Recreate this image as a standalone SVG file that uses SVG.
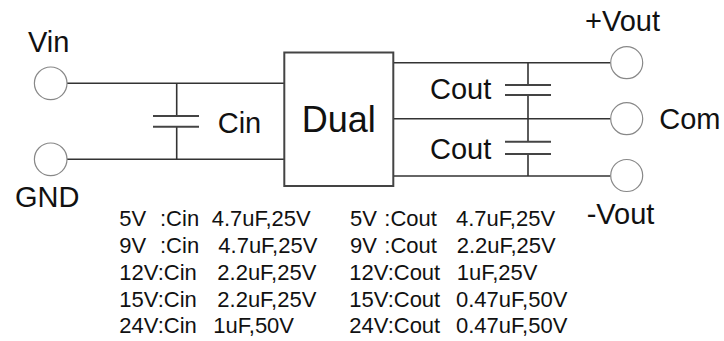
<svg xmlns="http://www.w3.org/2000/svg" width="724" height="341" viewBox="0 0 724 341">
<style>
  .wire { stroke:#333; stroke-width:1.6; fill:none; }
  .plate { stroke:#444; stroke-width:2; fill:none; }
  .term { stroke:#888; stroke-width:1.2; fill:#fff; }
  .box { stroke:#444; stroke-width:2; fill:#fff; }
  .lbl { font-family:"Liberation Sans", Arial, sans-serif; font-size:29px; fill:#111; }
  .big { font-family:"Liberation Sans", Arial, sans-serif; font-size:36px; fill:#111; }
  .tbl { font-family:"Liberation Sans", Arial, sans-serif; font-size:22px; fill:#111; }
</style>
<rect width="724" height="341" fill="#fff"/>
<g id="connectors">
  <line class="wire" x1="67" y1="83.3" x2="284" y2="83.3"/>
  <line class="wire" x1="67" y1="159.3" x2="284" y2="159.3"/>
  <line class="wire" x1="176.7" y1="83.3" x2="176.7" y2="116"/>
  <line class="wire" x1="176.7" y1="126.7" x2="176.7" y2="159.3"/>
  <line class="wire" x1="393" y1="62.7" x2="610.7" y2="62.7"/>
  <line class="wire" x1="393" y1="118.7" x2="610.7" y2="118.7"/>
  <line class="wire" x1="393" y1="176" x2="610.7" y2="176"/>
  <line class="wire" x1="528" y1="62.7" x2="528" y2="85"/>
  <line class="wire" x1="528" y1="95" x2="528" y2="141.7"/>
  <line class="wire" x1="528" y1="154" x2="528" y2="176"/>
</g>
<g id="cin">
  <line class="plate" x1="153" y1="116" x2="199" y2="116"/>
  <line class="plate" x1="153" y1="126.7" x2="199" y2="126.7"/>
  <text class="lbl" x="217.7" y="133">Cin</text>
</g>
<g id="cout1">
  <line class="plate" x1="505" y1="85" x2="551" y2="85"/>
  <line class="plate" x1="505" y1="95" x2="551" y2="95"/>
  <text class="lbl" x="430" y="99">Cout</text>
</g>
<g id="cout2">
  <line class="plate" x1="505" y1="141.7" x2="551" y2="141.7"/>
  <line class="plate" x1="505" y1="154" x2="551" y2="154"/>
  <text class="lbl" x="430" y="159">Cout</text>
</g>
<g id="dual">
  <rect class="box" x="284.3" y="52.5" width="109" height="133.5"/>
  <text class="big" x="301.7" y="131.7">Dual</text>
</g>
<g id="vin">
  <circle class="term" cx="50.7" cy="83.3" r="16.3"/>
  <text class="lbl" x="28" y="52">Vin</text>
</g>
<g id="gnd">
  <circle class="term" cx="50.7" cy="159.3" r="16.3"/>
  <text class="lbl" x="15" y="207">GND</text>
</g>
<g id="vout-plus">
  <circle class="term" cx="626.7" cy="62.7" r="16"/>
  <text class="lbl" x="585" y="30.7">+Vout</text>
</g>
<g id="com">
  <circle class="term" cx="626.7" cy="118.7" r="16"/>
  <text class="lbl" x="659.3" y="129.3">Com</text>
</g>
<g id="vout-minus">
  <circle class="term" cx="626.7" cy="175.5" r="16"/>
  <text class="lbl" x="586.7" y="224">-Vout</text>
</g>
<g id="table-cin" class="tbl">
  <text class="tbl" x="119.3" y="226">5V</text>
  <text class="tbl" x="160" y="226">:Cin</text>
  <text class="tbl" x="211.7" y="226">4.7uF,25V</text>
  <text class="tbl" x="119.3" y="253">9V</text>
  <text class="tbl" x="160" y="253">:Cin</text>
  <text class="tbl" x="218.3" y="253">4.7uF,25V</text>
  <text class="tbl" x="119.3" y="280">12V:Cin</text>
  <text class="tbl" x="217.3" y="280">2.2uF,25V</text>
  <text class="tbl" x="119.3" y="306.7">15V:Cin</text>
  <text class="tbl" x="217.3" y="306.7">2.2uF,25V</text>
  <text class="tbl" x="119.3" y="333.3">24V:Cin</text>
  <text class="tbl" x="213.3" y="333.3">1uF,50V</text>
</g>
<g id="table-cout">
  <text class="tbl" x="350" y="226">5V</text>
  <text class="tbl" x="384.3" y="226">:Cout</text>
  <text class="tbl" x="456" y="226">4.7uF,25V</text>
  <text class="tbl" x="350" y="253">9V</text>
  <text class="tbl" x="384.3" y="253">:Cout</text>
  <text class="tbl" x="456.7" y="253">2.2uF,25V</text>
  <text class="tbl" x="349.3" y="280">12V:Cout</text>
  <text class="tbl" x="456.7" y="280">1uF,25V</text>
  <text class="tbl" x="349.3" y="306.7">15V:Cout</text>
  <text class="tbl" x="456" y="306.7">0.47uF,50V</text>
  <text class="tbl" x="349.3" y="333.3">24V:Cout</text>
  <text class="tbl" x="456" y="333.3">0.47uF,50V</text>
</g>
</svg>
